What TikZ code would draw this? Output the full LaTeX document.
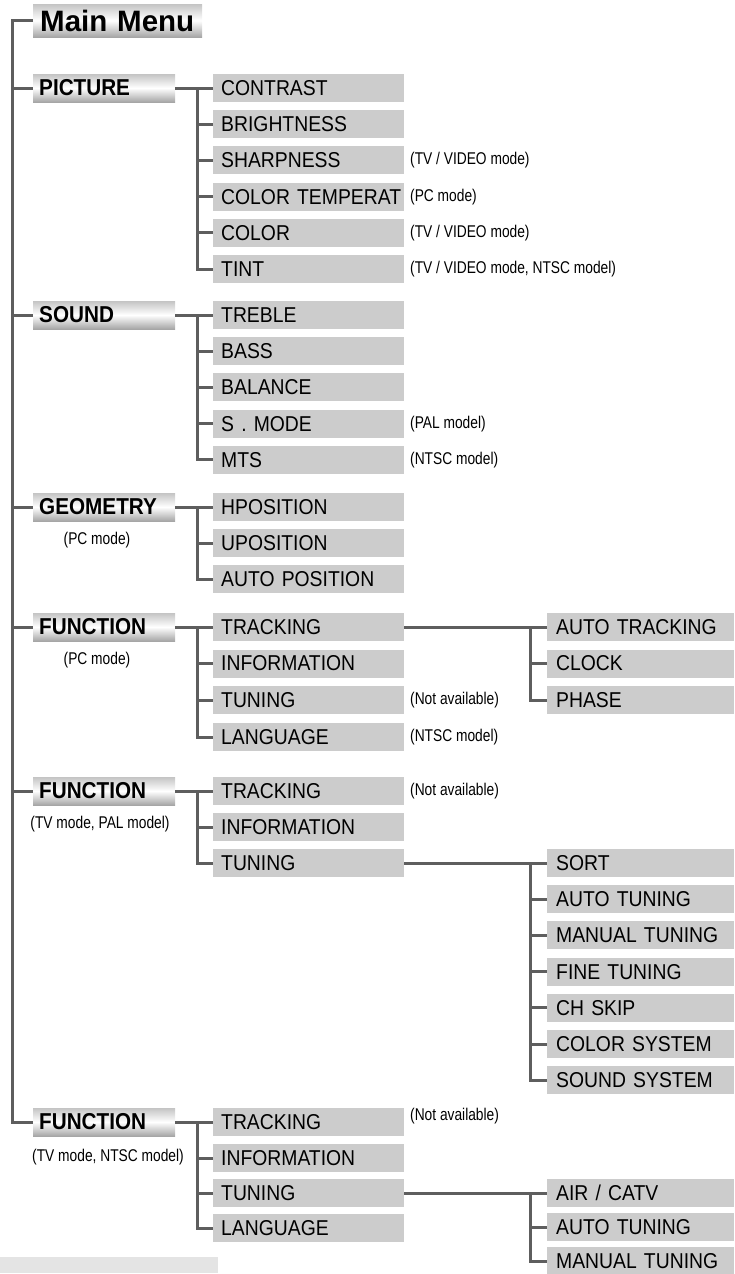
\documentclass[tikz,border=0pt]{standalone}
\usepackage{fontspec}
\setmainfont{Liberation Sans}
\newfontfamily\narrowfont[FakeStretch=0.81]{Liberation Sans}
\newfontfamily\itemfont[FakeStretch=0.9]{Liberation Sans}
\definecolor{boxgray}{HTML}{CCCCCC}
\definecolor{linegray}{HTML}{5E5E5E}
\definecolor{hdrgray}{HTML}{C4C4C4}
\definecolor{hdrgrayb}{HTML}{A6A6A6}
\definecolor{bargray}{HTML}{E4E4E4}
\begin{document}
\begin{tikzpicture}[x=1pt,y=-1pt,
 item/.style={fill=boxgray, anchor=west, minimum height=28pt, text width=175pt, inner xsep=8pt, inner ysep=0pt, align=left, font=\itemfont\fontsize{21.5}{23}\selectfont},
 subitem/.style={item, text width=169pt, inner xsep=9pt},
 hdrshade/.style={top color=hdrgray, bottom color=hdrgrayb, middle color=white},
 header/.style={hdrshade, anchor=west, minimum height=28pt, text width=130pt, inner xsep=6pt, inner ysep=0pt, align=left, font=\itemfont\bfseries\fontsize{23}{24}\selectfont},
 note/.style={anchor=west, inner sep=0pt, font=\narrowfont\fontsize{17}{19}\selectfont},
 hnote/.style={inner sep=0pt, font=\narrowfont\fontsize{17}{19}\selectfont},
 conn/.style={draw=linegray, line width=3pt, line join=miter}
]
\useasboundingbox (0,0) rectangle (735,1274);
\fill[bargray] (0,1257) rectangle (218,1273);

% main menu
\node[hdrshade, anchor=west, minimum height=33pt, text width=155pt, inner xsep=7pt, inner ysep=0pt, align=left, font=\bfseries\fontsize{29.5}{32}\selectfont] (mm) at (33,20.5) {Main Menu};
\coordinate (T) at (12,0);

% headers
\node[header] (pic) at (33,88) {PICTURE};
\node[header] (snd) at (33,315) {SOUND};
\node[header] (geo) at (33,507) {GEOMETRY};
\node[header] (fa) at (33,627) {FUNCTION};
\node[header] (fb) at (33,791) {FUNCTION};
\node[header] (fc) at (33,1122) {FUNCTION};

\node[hnote] (geon) at (97,540) {(PC mode)};
\node[hnote] (fan) at (97,660) {(PC mode)};
\node[hnote] (fbn) at (100,824) {(TV mode, PAL model)};
\node[hnote] (fcn) at (108,1157) {(TV mode, NTSC model)};

% trunk
\draw[conn] (mm.west) -| (T |- fc.west) -- (fc.west);
\foreach \h in {pic,snd,geo,fa,fb} \draw[conn] (T |- \h.west) -- (\h.west);

% PICTURE
\node[item] (p1) at (213,88) {CONTRAST};
\node[item] (p2) at (213,124.2) {BRIGHTNESS};
\node[item] (p3) at (213,160.4) {SHARPNESS};
\node[item] (p4) at (213,196.6) {\mbox{COLOR TEMPERAT}};
\node[item] (p5) at (213,232.8) {COLOR};
\node[item] (p6) at (213,269) {TINT};
\node[note] (p3n) at (410,160.4) {(TV / VIDEO mode)};
\node[note] (p4n) at (410,196.6) {(PC mode)};
\node[note] (p5n) at (410,232.8) {(TV / VIDEO mode)};
\node[note] (p6n) at (410,269) {(TV / VIDEO mode, NTSC model)};
\coordinate (pb) at ([xshift=22pt]pic.east);
\draw[conn] (pic.east) -- (p1.west);
\draw[conn] (pb) |- (p6.west);
\foreach \c in {p2,p3,p4,p5} \draw[conn] (pb |- \c.west) -- (\c.west);

% SOUND
\node[item] (s1) at (213,315) {TREBLE};
\node[item] (s2) at (213,351.2) {BASS};
\node[item] (s3) at (213,387.4) {BALANCE};
\node[item] (s4) at (213,423.6) {S . MODE};
\node[item] (s5) at (213,459.8) {MTS};
\node[note] (s4n) at (410,423.6) {(PAL model)};
\node[note] (s5n) at (410,459.8) {(NTSC model)};
\coordinate (sb) at ([xshift=22pt]snd.east);
\draw[conn] (snd.east) -- (s1.west);
\draw[conn] (sb) |- (s5.west);
\foreach \c in {s2,s3,s4} \draw[conn] (sb |- \c.west) -- (\c.west);

% GEOMETRY
\node[item] (g1) at (213,507) {HPOSITION};
\node[item] (g2) at (213,543) {UPOSITION};
\node[item] (g3) at (213,579) {AUTO POSITION};
\coordinate (gb) at ([xshift=22pt]geo.east);
\draw[conn] (geo.east) -- (g1.west);
\draw[conn] (gb) |- (g3.west);
\draw[conn] (gb |- g2.west) -- (g2.west);

% FUNCTION (PC mode)
\node[item] (a1) at (213,627) {TRACKING};
\node[item] (a2) at (213,663.5) {INFORMATION};
\node[item] (a3) at (213,700) {TUNING};
\node[item] (a4) at (213,737) {LANGUAGE};
\node[note] (a3n) at (410,700) {(Not available)};
\node[note] (a4n) at (410,737) {(NTSC model)};
\coordinate (ab) at ([xshift=22pt]fa.east);
\draw[conn] (fa.east) -- (a1.west);
\draw[conn] (ab) |- (a4.west);
\foreach \c in {a2,a3} \draw[conn] (ab |- \c.west) -- (\c.west);

\node[subitem] (t1) at (547,627) {AUTO TRACKING};
\node[subitem] (t2) at (547,663.5) {CLOCK};
\node[subitem] (t3) at (547,700) {PHASE};
\coordinate (tb) at ([xshift=-17pt]t1.west);
\draw[conn] (a1.east) -- (t1.west);
\draw[conn] (tb) |- (t3.west);
\draw[conn] (tb |- t2.west) -- (t2.west);

% FUNCTION (TV mode, PAL model)
\node[item] (b1) at (213,791) {TRACKING};
\node[item] (b2) at (213,827) {INFORMATION};
\node[item] (b3) at (213,863) {TUNING};
\node[note] (b1n) at (410,791) {(Not available)};
\coordinate (bb) at ([xshift=22pt]fb.east);
\draw[conn] (fb.east) -- (b1.west);
\draw[conn] (bb) |- (b3.west);
\draw[conn] (bb |- b2.west) -- (b2.west);

\node[subitem] (u1) at (547,863) {SORT};
\node[subitem] (u2) at (547,899.2) {AUTO TUNING};
\node[subitem] (u3) at (547,935.4) {MANUAL TUNING};
\node[subitem] (u4) at (547,971.6) {FINE TUNING};
\node[subitem] (u5) at (547,1007.8) {CH SKIP};
\node[subitem] (u6) at (547,1044) {COLOR SYSTEM};
\node[subitem] (u7) at (547,1080.2) {SOUND SYSTEM};
\coordinate (ub) at ([xshift=-17pt]u1.west);
\draw[conn] (b3.east) -- (u1.west);
\draw[conn] (ub) |- (u7.west);
\foreach \c in {u2,u3,u4,u5,u6} \draw[conn] (ub |- \c.west) -- (\c.west);

% FUNCTION (TV mode, NTSC model)
\node[item] (c1) at (213,1122) {TRACKING};
\node[item] (c2) at (213,1158) {INFORMATION};
\node[item] (c3) at (213,1193) {TUNING};
\node[item] (c4) at (213,1228) {LANGUAGE};
\node[note] (c1n) at (410,1116) {(Not available)};
\coordinate (cb) at ([xshift=22pt]fc.east);
\draw[conn] (fc.east) -- (c1.west);
\draw[conn] (cb) |- (c4.west);
\foreach \c in {c2,c3} \draw[conn] (cb |- \c.west) -- (\c.west);

\node[subitem] (v1) at (547,1193) {AIR / CATV};
\node[subitem] (v2) at (547,1227) {AUTO TUNING};
\node[subitem] (v3) at (547,1261) {MANUAL TUNING};
\coordinate (vb) at ([xshift=-17pt]v1.west);
\draw[conn] (c3.east) -- (v1.west);
\draw[conn] (vb) |- (v3.west);
\draw[conn] (vb |- v2.west) -- (v2.west);
\end{tikzpicture}
\end{document}
